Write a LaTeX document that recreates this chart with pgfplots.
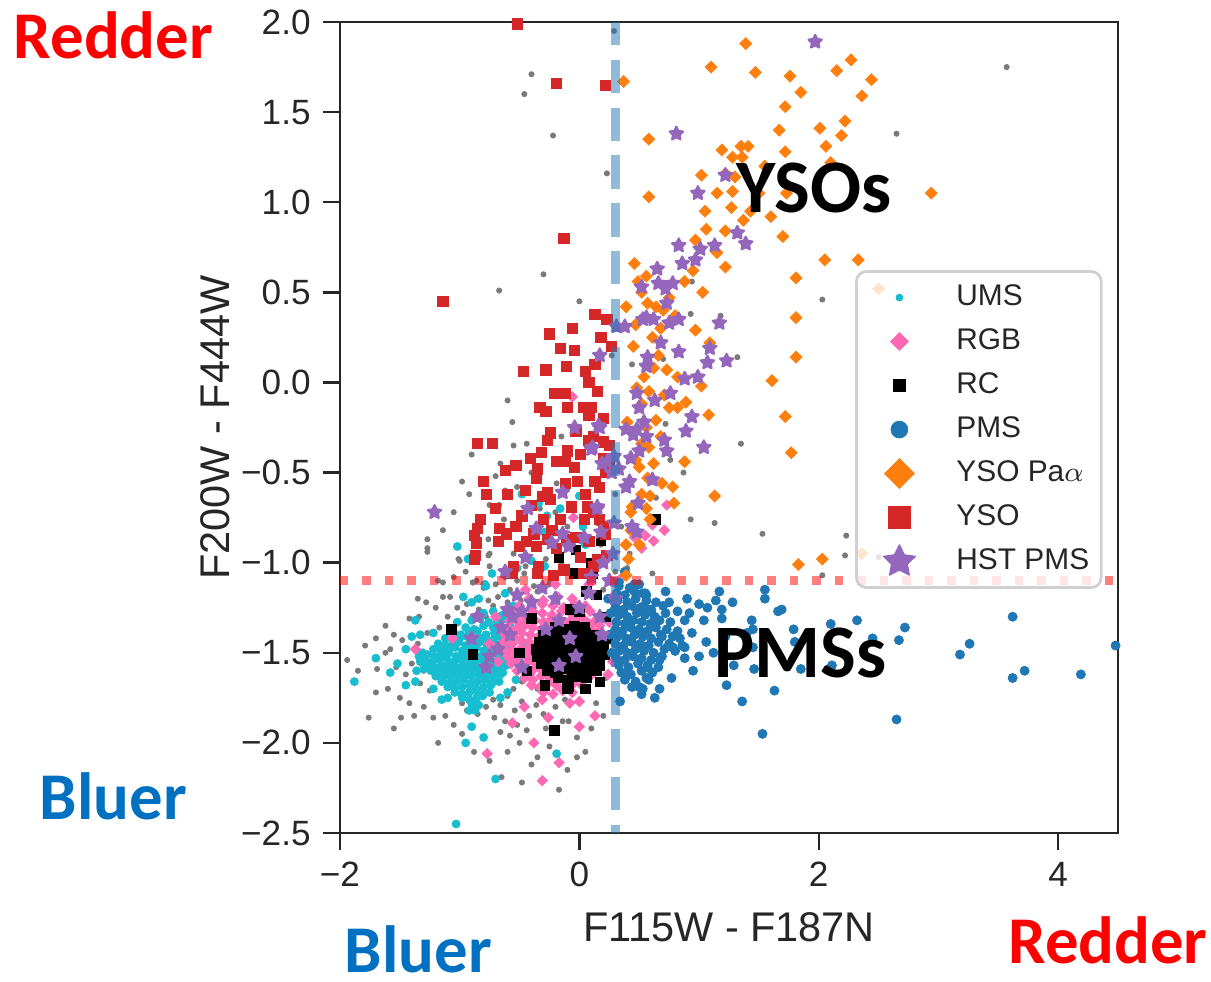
\documentclass[border=0pt]{standalone}
\usepackage{pgfplots}
\pgfplotsset{compat=1.18}
\usepackage{fontspec}
\setmainfont{Liberation Sans}
\newfontfamily\carlito{Carlito}

\definecolor{axgray}{HTML}{262626}
\definecolor{lgray}{HTML}{D0D0D0}
\definecolor{cgray}{HTML}{7A7A7A}
\definecolor{ccyan}{HTML}{17BECF}
\definecolor{cpink}{HTML}{FF69B4}
\definecolor{cblue}{HTML}{1F77B4}
\definecolor{corange}{HTML}{FF7F0E}
\definecolor{cred}{HTML}{D62728}
\definecolor{cpurple}{HTML}{9467BD}
\definecolor{txtred}{HTML}{FF0000}
\definecolor{txtblue}{HTML}{0070C0}

% filled five-pointed star
\pgfdeclareplotmark{fstar}{%
  \pgfpathmoveto{\pgfpointpolar{90}{\pgfplotmarksize}}%
  \pgfpathlineto{\pgfpointpolar{126}{0.5\pgfplotmarksize}}%
  \pgfpathlineto{\pgfpointpolar{162}{\pgfplotmarksize}}%
  \pgfpathlineto{\pgfpointpolar{198}{0.5\pgfplotmarksize}}%
  \pgfpathlineto{\pgfpointpolar{234}{\pgfplotmarksize}}%
  \pgfpathlineto{\pgfpointpolar{270}{0.5\pgfplotmarksize}}%
  \pgfpathlineto{\pgfpointpolar{306}{\pgfplotmarksize}}%
  \pgfpathlineto{\pgfpointpolar{342}{0.5\pgfplotmarksize}}%
  \pgfpathlineto{\pgfpointpolar{18}{\pgfplotmarksize}}%
  \pgfpathlineto{\pgfpointpolar{54}{0.5\pgfplotmarksize}}%
  \pgfpathclose
  \pgfusepathqfillstroke
}

\begin{document}
\begin{tikzpicture}
\useasboundingbox (-34mm,-14.9mm) rectangle (87.1mm,83.3mm);
\begin{axis}[
    width=77.8mm, height=81.1mm, scale only axis,
    xmin=-2, xmax=4.5, ymin=-2.5, ymax=2.0,
    xtick={-2,0,2,4}, xticklabels={−2,0,2,4},
    ytick={-2.5,-2.0,-1.5,-1.0,-0.5,0.0,0.5,1.0,1.5,2.0},
    yticklabels={−2.5,−2.0,−1.5,−1.0,−0.5,0.0,0.5,1.0,1.5,2.0},
    xtick pos=bottom, ytick pos=left, tick align=outside,
    major tick length=1.7mm,
    tick style={axgray, line width=0.7pt},
    axis line style={axgray, line width=0.8pt},
    tick label style={font=\fontsize{10}{12}\selectfont, text=axgray},
    xlabel={F115W - F187N}, ylabel={F200W - F444W},
    label style={font=\fontsize{11.8}{14}\selectfont, text=axgray},
    xlabel style={at={(axis description cs:0.5,-0.116)}, anchor=center},
    ylabel style={at={(axis description cs:-0.161,0.5)}, anchor=center},
    clip mode=individual,
    legend cell align=left,
    legend image code/.code={\path[draw=none] (0mm,0mm) (6.6mm,0mm);
        \draw[mark repeat=2,mark phase=2,#1] plot coordinates {(0mm,0mm) (3.1mm,0mm) (6.2mm,0mm)};},
    legend style={at={(0.662,0.694)}, anchor=north west, draw=lgray, line width=0.8pt,
        rounded corners=1mm, fill=white, fill opacity=0.8, text opacity=1, draw opacity=1,
        inner xsep=1.2mm, inner ysep=0.4mm, row sep=0pt, column sep=2.2mm,
        font=\fontsize{8.5}{10}\selectfont, text=axgray,
        nodes={inner sep=0pt, minimum height=4.4mm}},
]

% legend entries
\addlegendimage{only marks, mark=*, mark size=1.0pt, ccyan, mark options={line width=0.2pt, fill opacity=1}}
\addlegendentry{UMS}
\addlegendimage{only marks, mark=square*, mark size=1.8pt, cpink, mark options={rotate=45, line width=0.2pt, fill opacity=1}}
\addlegendentry{RGB}
\addlegendimage{only marks, mark=square*, mark size=1.75pt, black, mark options={line width=0.2pt, fill opacity=1}}
\addlegendentry{RC}
\addlegendimage{only marks, mark=*, mark size=2.4pt, cblue, mark options={line width=0.2pt, fill opacity=1}}
\addlegendentry{PMS}
\addlegendimage{only marks, mark=square*, mark size=3.0pt, corange, mark options={rotate=45, line width=0.2pt, fill opacity=1}}
\addlegendentry{YSO Pa$\alpha$}
\addlegendimage{only marks, mark=square*, mark size=3.1pt, cred, mark options={line width=0.2pt, fill opacity=1}}
\addlegendentry{YSO}
\addlegendimage{only marks, mark=fstar, mark size=4.8pt, cpurple, mark options={line width=0.3pt, line join=round, fill opacity=1}}
\addlegendentry{HST PMS}

% all sources (grey)
\addplot[only marks, mark=*, mark size=0.75pt, cgray, mark options={line width=0.2pt}, forget plot] coordinates {
(-1.10,-1.30)(-1.03,-1.33)(-0.97,-1.28)(-0.90,-1.31)(-0.84,-1.26)(-0.78,-1.30)(-0.72,-1.24)(-0.66,-1.29)(-0.60,-1.22)(-0.55,-1.27)
(-0.49,-1.21)(-0.44,-1.16)(-0.38,-1.13)(-0.68,-1.19)(-0.76,-1.21)(-0.86,-1.20)(-0.94,-1.23)(-1.02,-1.25)(-0.58,-1.15)(-0.52,-1.10)
(-0.46,-1.06)(-0.62,-1.08)(-0.70,-1.12)(-0.80,-1.14)(-0.89,-1.11)(-1.14,-1.19)(-1.08,-1.37)(-1.17,-1.36)
(-1.05,-1.72)(-0.98,-1.78)(-0.78,-1.80)(-0.72,-1.76)(-0.66,-1.79)(-0.60,-1.74)(-0.54,-1.82)(-0.48,-1.77)(-0.42,-1.85)(-0.36,-1.79)
(-0.30,-1.84)(-0.71,-1.86)(-0.62,-1.88)(-0.52,-1.90)(-0.44,-1.93)(-0.85,-1.84)(-0.94,-1.82)(-0.58,-1.96)(-0.66,-1.94)(-0.28,-1.92)
(-0.20,-1.80)(-0.12,-1.76)(-0.35,-1.70)(-0.48,-1.66)(-0.55,-1.70)(-0.40,-1.62)
(-1.94,-1.54)(-1.79,-1.46)(-1.69,-1.59)(-1.62,-1.50)(-1.58,-1.48)(-1.53,-1.58)(-1.49,-1.86)(-1.42,-1.31)(-1.34,-1.30)(-1.27,-1.39)
(-1.35,-1.45)(-1.40,-1.56)(-1.45,-1.62)(-1.33,-1.67)(-1.25,-1.71)(-1.18,-2.00)(-1.08,-1.19)(-1.76,-1.86)(-1.48,-1.43)(-1.30,-1.60)
(-1.00,-0.99)(-0.89,-1.11)(-0.75,-1.02)(-1.14,-1.11)(-1.27,-0.94)(-0.75,-0.95)(-1.14,-0.82)(-1.27,-0.87)(-1.27,-0.92)(-1.01,-0.98)
(-0.75,-0.68)(-0.67,-0.68)(-0.81,-0.75)(-0.63,-0.76)(-0.76,-0.87)(-0.76,-0.96)(-0.86,-1.10)(-0.44,-0.34)(-0.19,-0.56)(-0.56,-0.22)
(-0.67,0.51)(-0.40,1.71)(-0.46,1.60)(-0.22,1.37)(0.23,1.16)(0.29,1.95)
(-0.65,-2.19)(-0.17,-2.26)(-0.48,-2.22)(-0.35,-2.08)(-0.02,-2.08)(0.05,-2.05)(-0.14,-1.88)(-0.09,-1.88)(-0.02,-1.97)(0.14,-1.78)
(0.06,-1.70)(0.22,-1.64)
(0.61,-1.06)(0.44,0.10)(0.70,0.13)(0.27,0.15)(0.93,0.38)(1.18,0.37)(0.94,0.56)(0.76,-0.43)(0.87,-0.50)(0.72,-0.23)
(0.64,-0.64)(0.93,-0.76)(1.13,-0.78)(1.53,-0.84)(2.23,-0.85)(2.22,-0.96)(2.03,-1.07)(2.50,-0.97)(3.58,-0.94)(2.03,0.46)
(1.32,0.14)(1.35,-0.34)(2.65,1.38)(3.57,1.75)(0.22,-0.98)(0.30,-1.05)(0.40,-1.03)
(-0.33,-0.70)(-0.20,-0.72)(-0.10,-0.80)(0.05,-0.88)(0.15,-0.78)(-0.38,-0.92)(-0.28,-0.98)(-0.55,-0.95)(-0.45,-1.02)(-0.15,-1.00)
(-0.05,-1.05)(0.10,-1.10)(0.20,-1.15)(-0.25,-1.12)(-0.35,-1.16)(-0.62,-0.60)(-0.52,-0.58)(-0.66,-0.45)(-0.55,-0.35)(-0.90,-0.40)
(-0.98,-0.55)(0.12,-0.35)(0.08,-0.20)(0.30,-0.62)(0.35,-0.80)(0.42,-0.95)(0.18,-0.90)
(-1.60,-1.70)(-1.55,-1.40)(-1.50,-1.75)(-1.42,-1.78)(-1.38,-1.85)(-1.30,-1.80)(-1.22,-1.86)(-1.12,-1.85)(-1.05,-1.90)(-0.98,-1.95)
(-0.88,-2.05)(-0.75,-2.10)(-0.60,-2.05)(-0.50,-2.00)(-0.40,-2.12)(-0.25,-2.02)(-0.10,-2.15)(0.10,-1.92)(0.20,-1.85)(-1.20,-1.25)
(-1.28,-1.22)(-1.35,-1.20)(-1.18,-1.10)(-1.05,-1.08)(-0.95,-1.05)(-1.62,-1.35)(-1.70,-1.42)(-1.85,-1.60)(-1.70,-1.72)(-1.55,-1.92)
(-0.70,-0.52)(-0.92,-0.62)(-1.05,-0.72)(-0.40,-0.50)(-0.15,-0.30)(-0.60,-0.10)(0.00,0.45)(-0.30,0.60)
};

% UMS
\addplot[only marks, mark=*, mark size=1.15pt, ccyan, mark options={line width=0.2pt}, forget plot] coordinates {
(-0.80,-1.28)(-0.72,-1.27)(-0.64,-1.29)
(-0.90,-1.32)(-0.83,-1.31)(-0.76,-1.33)(-0.69,-1.32)(-0.62,-1.31)
(-0.95,-1.36)(-0.88,-1.37)(-0.80,-1.35)(-0.72,-1.36)(-0.64,-1.37)(-0.58,-1.35)
(-1.05,-1.39)(-0.99,-1.40)(-0.92,-1.39)(-0.85,-1.38)(-0.78,-1.40)(-0.71,-1.39)(-0.66,-1.40)(-0.60,-1.38)(-0.55,-1.40)
(-1.12,-1.42)(-1.06,-1.43)(-1.00,-1.42)(-0.94,-1.41)(-0.88,-1.43)(-0.82,-1.42)(-0.76,-1.43)(-0.70,-1.41)(-0.64,-1.42)(-0.58,-1.43)
(-1.18,-1.45)(-1.12,-1.46)(-1.06,-1.45)(-1.01,-1.44)(-0.95,-1.46)(-0.89,-1.45)(-0.83,-1.44)(-0.77,-1.46)(-0.71,-1.45)(-0.65,-1.44)(-0.59,-1.46)
(-1.22,-1.48)(-1.16,-1.49)(-1.10,-1.48)(-1.04,-1.47)(-0.98,-1.49)(-0.92,-1.48)(-0.86,-1.47)(-0.80,-1.49)(-0.74,-1.48)(-0.68,-1.47)(-0.62,-1.49)
(-1.27,-1.51)(-1.21,-1.52)(-1.15,-1.51)(-1.09,-1.50)(-1.03,-1.52)(-0.97,-1.51)(-0.91,-1.50)(-0.85,-1.52)(-0.79,-1.51)(-0.73,-1.50)(-0.67,-1.52)(-0.61,-1.51)
(-1.29,-1.54)(-1.23,-1.55)(-1.17,-1.54)(-1.11,-1.53)(-1.05,-1.55)(-0.99,-1.54)(-0.93,-1.53)(-0.87,-1.55)(-0.81,-1.54)(-0.75,-1.53)(-0.69,-1.55)(-0.63,-1.54)
(-1.27,-1.57)(-1.21,-1.58)(-1.15,-1.57)(-1.09,-1.56)(-1.03,-1.58)(-0.97,-1.57)(-0.91,-1.56)(-0.85,-1.58)(-0.79,-1.57)(-0.73,-1.56)(-0.67,-1.58)(-0.61,-1.57)
(-1.24,-1.60)(-1.18,-1.61)(-1.12,-1.60)(-1.06,-1.59)(-1.00,-1.61)(-0.94,-1.60)(-0.88,-1.59)(-0.82,-1.61)(-0.76,-1.60)(-0.70,-1.59)(-0.64,-1.61)
(-1.20,-1.63)(-1.14,-1.64)(-1.08,-1.63)(-1.02,-1.62)(-0.96,-1.64)(-0.90,-1.63)(-0.84,-1.62)(-0.78,-1.64)(-0.72,-1.63)(-0.66,-1.62)
(-1.15,-1.66)(-1.09,-1.67)(-1.03,-1.66)(-0.97,-1.65)(-0.91,-1.67)(-0.85,-1.66)(-0.79,-1.65)(-0.73,-1.67)(-0.67,-1.66)
(-1.10,-1.69)(-1.04,-1.70)(-0.98,-1.69)(-0.92,-1.68)(-0.86,-1.70)(-0.80,-1.69)(-0.74,-1.68)
(-1.04,-1.72)(-0.98,-1.73)(-0.92,-1.72)(-0.86,-1.71)(-0.80,-1.73)(-0.75,-1.72)
(-0.98,-1.75)(-0.92,-1.76)(-0.86,-1.75)(-0.81,-1.74)(-0.90,-1.78)(-0.84,-1.79)(-0.87,-1.82)
(-1.33,-1.55)(-1.31,-1.50)(-1.30,-1.59)
(-1.88,-1.66)(-1.70,-1.53)(-1.58,-1.61)(-1.37,-1.32)(-1.37,-1.66)(-1.15,-1.76)(-0.90,-1.91)(-0.95,-2.00)(-0.80,-1.97)(-0.70,-2.20)
(-0.19,-2.06)(-0.79,-1.12)(-0.52,-1.03)(-0.29,-1.02)(-0.23,-1.10)(-0.90,-1.22)(-0.84,-1.20)(-1.03,-2.45)(-0.48,-0.62)(0.00,-0.63)
(-0.34,-0.67)(-0.16,-0.70)(-0.27,-0.74)(-1.02,-0.91)(-0.93,-0.98)(-0.29,-0.83)(-0.20,-0.83)(0.03,-0.80)(-0.18,-0.94)(0.05,-0.90)
(-0.40,-0.99)(-0.73,-1.06)(-0.78,-1.13)(-1.45,-1.48)(-1.40,-1.41)(-1.34,-1.52)(-1.33,-1.40)(-1.36,-1.60)(-1.22,-1.39)(-1.22,-1.70)
(-0.55,-1.24)(-0.50,-1.36)(-0.46,-1.46)(-0.50,-1.55)(-0.53,-1.65)(-0.60,-1.72)(-0.66,-1.75)(-0.92,-1.82)(-0.86,-1.78)(-1.10,-1.75)
(-1.52,-1.56)(-1.45,-1.68)(0.10,-1.08)(0.20,-0.98)(-0.62,-1.17)(-0.97,-1.19)(-1.02,-1.33)
};

% RGB
\addplot[only marks, mark=square*, mark size=1.05pt, cpink, mark options={rotate=45, line width=0.2pt}, forget plot] coordinates {
(-0.42,-1.20)(-0.30,-1.21)(-0.18,-1.19)(-0.06,-1.20)
(-0.50,-1.24)(-0.40,-1.25)(-0.31,-1.23)(-0.22,-1.24)(-0.13,-1.25)(-0.04,-1.23)(0.05,-1.24)
(-0.55,-1.28)(-0.47,-1.29)(-0.39,-1.27)(-0.31,-1.28)(-0.23,-1.29)(-0.15,-1.27)(-0.07,-1.28)(0.01,-1.29)(0.09,-1.27)
(-0.58,-1.32)(-0.51,-1.33)(-0.44,-1.31)(-0.37,-1.32)(-0.30,-1.33)(-0.23,-1.31)(-0.16,-1.32)(-0.09,-1.33)(-0.02,-1.31)(0.05,-1.32)(0.12,-1.33)
(-0.60,-1.36)(-0.53,-1.37)(-0.46,-1.35)(-0.39,-1.36)(-0.32,-1.37)(-0.25,-1.35)(-0.18,-1.36)(-0.11,-1.37)(-0.04,-1.35)(0.03,-1.36)(0.10,-1.37)(0.17,-1.35)
(-0.62,-1.40)(-0.55,-1.41)(-0.48,-1.39)(-0.41,-1.40)(-0.34,-1.41)(-0.27,-1.39)(-0.20,-1.40)(-0.13,-1.41)(-0.06,-1.39)(0.01,-1.40)(0.08,-1.41)(0.15,-1.39)
(-0.63,-1.44)(-0.56,-1.45)(-0.49,-1.43)(-0.42,-1.44)(-0.35,-1.45)(-0.28,-1.43)(-0.21,-1.44)(-0.14,-1.45)(-0.07,-1.43)(0.00,-1.44)(0.07,-1.45)(0.14,-1.43)(0.20,-1.44)
(-0.62,-1.48)(-0.55,-1.49)(-0.48,-1.47)(-0.41,-1.48)(-0.34,-1.49)(-0.27,-1.47)(-0.20,-1.48)(-0.13,-1.49)(-0.06,-1.47)(0.01,-1.48)(0.08,-1.49)(0.15,-1.47)
(-0.60,-1.52)(-0.53,-1.53)(-0.46,-1.51)(-0.39,-1.52)(-0.32,-1.53)(-0.25,-1.51)(-0.18,-1.52)(-0.11,-1.53)(-0.04,-1.51)(0.03,-1.52)(0.10,-1.53)(0.17,-1.51)
(-0.57,-1.56)(-0.50,-1.57)(-0.43,-1.55)(-0.36,-1.56)(-0.29,-1.57)(-0.22,-1.55)(-0.15,-1.56)(-0.08,-1.57)(-0.01,-1.55)(0.06,-1.56)(0.13,-1.57)
(-0.52,-1.60)(-0.45,-1.61)(-0.38,-1.59)(-0.31,-1.60)(-0.24,-1.61)(-0.17,-1.59)(-0.10,-1.60)(-0.03,-1.61)(0.04,-1.59)(0.11,-1.60)
(-0.46,-1.64)(-0.39,-1.65)(-0.32,-1.63)(-0.25,-1.64)(-0.18,-1.65)(-0.11,-1.63)(-0.04,-1.64)(0.03,-1.65)(0.09,-1.63)
(-0.40,-1.68)(-0.33,-1.69)(-0.26,-1.67)(-0.19,-1.68)(-0.12,-1.69)(-0.05,-1.67)(0.02,-1.68)
(-0.30,-1.72)(-0.22,-1.73)(-0.14,-1.71)(-0.06,-1.72)
(-0.77,-2.06)(-0.56,-1.89)(-0.46,-1.80)(-0.38,-2.00)(-0.31,-2.21)(-0.17,-2.11)(0.00,-1.91)(0.13,-1.85)(-0.26,-1.86)(-0.08,-1.78)
(0.00,-1.77)(-0.31,-1.76)(-1.37,-1.48)(-1.06,-1.42)(-0.70,-1.30)(-0.75,-1.45)(-0.68,-1.55)(-0.06,-0.08)(0.52,-0.92)(0.62,-0.88)
(0.36,-1.08)(0.26,-1.20)(0.24,-1.62)(0.28,-1.55)(0.25,-1.33)(-0.35,-1.05)(-0.20,-1.12)(0.08,-1.12)(-0.45,-1.15)(0.55,-0.85)
(0.46,-0.86)(-0.05,-0.75)(0.61,-0.79)(0.71,-0.82)(0.73,-0.68)
};

% RC
\addplot[only marks, mark=square*, mark size=1.35pt, black, mark options={line width=0.2pt}, forget plot] coordinates {
(-0.20,-1.36)(-0.12,-1.37)(-0.04,-1.35)(0.04,-1.36)
(-0.30,-1.40)(-0.23,-1.41)(-0.16,-1.39)(-0.09,-1.40)(-0.02,-1.41)(0.05,-1.39)(0.12,-1.40)
(-0.34,-1.44)(-0.27,-1.45)(-0.20,-1.43)(-0.13,-1.44)(-0.06,-1.45)(0.01,-1.43)(0.08,-1.44)(0.15,-1.45)
(-0.36,-1.48)(-0.29,-1.49)(-0.22,-1.47)(-0.15,-1.48)(-0.08,-1.49)(-0.01,-1.47)(0.06,-1.48)(0.13,-1.49)(0.20,-1.47)
(-0.35,-1.52)(-0.28,-1.53)(-0.21,-1.51)(-0.14,-1.52)(-0.07,-1.53)(0.00,-1.51)(0.07,-1.52)(0.14,-1.53)(0.21,-1.51)
(-0.32,-1.56)(-0.25,-1.57)(-0.18,-1.55)(-0.11,-1.56)(-0.04,-1.57)(0.03,-1.55)(0.10,-1.56)(0.17,-1.57)
(-0.27,-1.60)(-0.20,-1.61)(-0.13,-1.59)(-0.06,-1.60)(0.01,-1.61)(0.08,-1.59)(0.14,-1.60)
(-0.18,-1.64)(-0.10,-1.65)(-0.02,-1.63)(0.06,-1.64)
(-0.89,-1.51)(-1.07,-1.37)(-0.50,-1.50)(-0.10,-1.70)(-0.21,-1.93)(0.06,-1.16)(0.14,-1.18)(0.00,-1.27)(-0.08,-1.26)(0.11,-1.06)
(-0.04,-1.06)(0.10,-1.00)(0.64,-0.76)(0.22,-1.30)(0.24,-1.42)(-0.40,-1.31)(-0.44,-1.60)(-0.29,-1.68)(0.05,-1.70)(0.17,-1.66)
(-0.17,-0.97)(-0.03,-0.93)(0.18,-0.88)(-0.09,-1.69)
};

% PMS
\addplot[only marks, mark=*, mark size=1.3pt, cblue, mark options={line width=0.2pt}, forget plot] coordinates {
(0.33,-1.13)(0.42,-1.14)(0.50,-1.12)
(0.31,-1.17)(0.38,-1.18)(0.46,-1.16)(0.55,-1.17)
(0.32,-1.21)(0.40,-1.22)(0.47,-1.20)(0.56,-1.21)(0.64,-1.22)
(0.30,-1.25)(0.37,-1.26)(0.44,-1.24)(0.51,-1.25)(0.60,-1.26)(0.70,-1.24)
(0.33,-1.29)(0.40,-1.30)(0.48,-1.28)(0.55,-1.29)(0.63,-1.30)(0.72,-1.28)
(0.31,-1.33)(0.38,-1.34)(0.45,-1.32)(0.52,-1.33)(0.59,-1.34)(0.67,-1.32)(0.76,-1.33)
(0.30,-1.37)(0.36,-1.38)(0.43,-1.36)(0.50,-1.37)(0.57,-1.38)(0.64,-1.36)(0.73,-1.37)(0.82,-1.38)
(0.32,-1.41)(0.39,-1.42)(0.46,-1.40)(0.53,-1.41)(0.60,-1.42)(0.68,-1.40)(0.78,-1.41)
(0.30,-1.45)(0.37,-1.46)(0.44,-1.44)(0.51,-1.45)(0.58,-1.46)(0.66,-1.44)(0.75,-1.45)(0.86,-1.46)
(0.33,-1.49)(0.40,-1.50)(0.47,-1.48)(0.54,-1.49)(0.62,-1.50)(0.71,-1.48)(0.80,-1.49)
(0.31,-1.53)(0.38,-1.54)(0.45,-1.52)(0.52,-1.53)(0.60,-1.54)(0.69,-1.52)
(0.33,-1.57)(0.41,-1.58)(0.49,-1.56)(0.57,-1.57)(0.66,-1.58)
(0.35,-1.61)(0.43,-1.62)(0.52,-1.60)(0.61,-1.61)
(0.38,-1.65)(0.47,-1.66)(0.56,-1.64)(0.44,-1.69)(0.53,-1.70)
(0.26,-1.28)(0.25,-1.40)(0.27,-1.50)(0.24,-1.20)
(0.33,-1.11)(0.46,-1.12)(0.53,-1.17)(0.72,-1.16)(0.75,-1.22)(0.54,-1.24)(0.60,-1.27)(0.63,-1.31)(1.00,-1.23)(1.07,-1.25)
(1.14,-1.21)(1.17,-1.16)(1.19,-1.26)(1.19,-1.31)(1.55,-1.15)(1.55,-1.20)(1.66,-1.27)(1.69,-1.26)(1.44,-1.32)(1.45,-1.37)
(1.40,-1.39)(1.79,-1.37)(1.80,-1.44)(2.10,-1.34)(2.11,-1.57)(2.32,-1.32)(2.72,-1.36)(2.67,-1.43)(2.45,-1.42)(3.62,-1.30)
(3.26,-1.45)(3.18,-1.51)(3.62,-1.64)(3.72,-1.60)(4.19,-1.62)(4.48,-1.46)(2.65,-1.87)(1.53,-1.95)(1.36,-1.77)(1.63,-1.71)
(1.23,-1.68)(1.46,-1.59)(1.29,-1.57)(1.85,-1.59)(1.00,-1.52)(1.12,-1.50)(1.06,-1.44)(0.88,-1.53)(0.88,-1.47)(0.78,-1.47)
(0.77,-1.64)(0.67,-1.70)(0.52,-1.73)(0.50,-1.69)(0.34,-1.77)(0.57,-1.58)(0.41,-1.62)(1.45,-1.47)(1.22,-1.41)(0.94,-1.39)
(0.88,-1.32)(1.04,-1.32)(0.69,-1.41)(0.67,-1.54)(0.90,-1.20)(0.82,-1.27)(0.95,-1.60)(1.28,-1.22)(0.38,-1.05)(0.56,-1.18)
(0.84,-1.42)(0.92,-1.28)(0.58,-1.65)(0.63,-1.75)
};

% YSO Pa alpha
\addplot[only marks, mark=square*, mark size=1.2pt, corange, mark options={rotate=45, line width=0.2pt}, forget plot] coordinates {
(1.39,1.88)(1.10,1.75)(0.37,1.67)(1.47,1.72)(1.76,1.70)(2.15,1.73)(2.27,1.79)(2.44,1.68)(2.36,1.59)(1.85,1.61)
(1.72,1.53)(2.22,1.45)(2.19,1.37)(2.01,1.41)(1.67,1.40)(2.06,1.31)(1.72,1.28)(1.41,1.31)(1.35,1.31)(1.19,1.29)
(1.28,1.25)(1.36,1.25)(2.10,1.22)(0.58,1.35)(1.02,1.15)(1.22,1.16)(1.30,1.14)(0.58,1.03)(1.28,1.06)(1.73,1.05)
(2.94,1.05)(1.27,0.97)(1.43,0.95)(1.37,0.90)(1.06,0.85)(0.97,0.79)(1.22,0.84)(1.70,0.81)(0.46,0.66)(1.22,0.64)
(2.05,0.68)(2.33,0.68)(1.81,0.58)(0.56,0.59)(0.49,0.56)(0.88,0.56)(1.03,0.50)(0.39,0.42)(0.57,0.44)(0.64,0.42)
(1.81,0.36)(0.68,0.30)(0.80,0.37)(0.97,0.29)(0.61,0.25)(1.09,0.22)(1.81,0.14)(0.73,0.07)(0.54,0.03)(0.82,0.03)
(1.61,0.01)(0.48,-0.03)(1.02,-0.02)(0.71,-0.07)(0.58,-0.05)(0.75,-0.14)(0.82,-0.14)(0.89,-0.11)(1.08,-0.18)(1.72,-0.19)
(0.64,-0.21)(0.56,-0.25)(1.77,-0.39)(0.52,-0.34)(0.58,-0.36)(0.88,-0.44)(0.50,-0.47)(0.47,-0.43)(0.69,-0.56)(0.78,-0.58)
(0.57,-0.53)(1.13,-0.63)(0.52,-0.62)(0.59,-0.63)(0.79,-0.67)(0.43,-0.72)(0.56,-0.70)(0.59,-0.76)(0.39,-0.90)(0.44,-0.69)
(0.43,-0.82)(0.39,-1.07)(0.41,-0.98)(0.50,-0.90)(1.83,-1.01)(2.03,-0.98)(0.66,0.15)(0.62,0.08)(0.45,0.20)(0.52,-0.12)
(0.40,-0.22)(0.68,-0.30)(0.62,-0.45)(0.47,0.32)(0.75,0.47)(0.70,0.40)(0.52,0.50)(0.95,0.62)(1.15,0.72)(1.05,0.95)
(1.15,1.05)(1.55,1.20)(1.50,1.05)(1.60,0.92)(2.50,0.52)(2.36,-0.95)
};

% YSO
\addplot[only marks, mark=square*, mark size=1.45pt, cred, mark options={line width=0.2pt}, forget plot] coordinates {
(-1.14,0.45)(-0.52,1.99)(-0.19,1.66)(0.22,1.65)(-0.13,0.80)(0.13,0.38)(0.23,0.35)(-0.06,0.30)(-0.16,0.19)(-0.47,0.06)
(-0.28,0.07)(-0.11,0.09)(0.05,0.06)(0.13,0.10)(0.08,0.00)(-0.21,-0.06)(-0.12,-0.06)(-0.33,-0.14)(-0.28,-0.16)(-0.10,-0.14)
(0.03,-0.14)(0.10,-0.14)(0.08,-0.18)(-0.24,-0.28)(-0.27,-0.32)(-0.85,-0.34)(-0.73,-0.34)(0.08,-0.32)(0.20,-0.33)(0.25,-0.35)
(-0.32,-0.39)(-0.10,-0.38)(0.01,-0.40)(-0.41,-0.42)(-0.19,-0.44)(-0.12,-0.44)(-0.04,-0.47)(-0.53,-0.46)(-0.62,-0.49)(-0.35,-0.48)
(-0.36,-0.53)(0.13,-0.55)(-0.12,-0.56)(0.17,-0.58)(-0.27,-0.61)(-0.24,-0.65)(-0.31,-0.63)(-0.07,-0.69)(-0.83,-0.76)(-0.85,-0.81)
(-0.88,-0.85)(-0.86,-0.89)(-0.87,-0.96)(-0.67,-0.81)(-0.61,-0.84)(-0.53,-0.80)(-0.48,-0.74)(-0.68,-0.88)(-0.50,-0.91)(-0.44,-0.88)
(-0.38,-0.84)(-0.36,-0.91)(-0.27,-0.87)(-0.23,-0.82)(-0.19,-0.92)(-0.11,-0.87)(-0.03,-0.86)(0.04,-0.76)(0.07,-0.69)(0.12,-0.72)
(0.17,-0.76)(0.20,-0.80)(0.22,-0.84)(0.01,-0.97)(0.08,-0.88)(-0.55,-1.02)(-0.34,-1.02)(0.15,-0.98)(0.23,-0.96)(-0.88,-0.98)
(-0.56,-1.06)(-0.35,-1.06)(-0.22,-1.07)(0.03,-1.06)(0.12,-1.02)(-0.13,-1.04)(-0.80,-0.55)(-0.78,-0.62)(-0.70,-0.70)(-0.60,-0.62)
(-0.45,-0.60)(-0.40,-0.68)(0.20,-0.42)(0.22,-0.50)(0.25,-0.45)(-0.02,-0.55)(0.05,-0.62)(-0.16,-0.76)(-0.30,-0.76)(-0.25,0.27)
(0.18,0.25)(-0.04,0.18)(0.27,0.20)(0.15,-0.05)(0.20,-0.20)(-0.03,-0.27)(0.12,-0.30)
};

% HST PMS
\addplot[only marks, mark=fstar, mark size=2.0pt, cpurple, mark options={line width=0.6pt, line join=round}, forget plot] coordinates {
(1.97,1.89)(0.81,1.38)(1.22,1.15)(0.99,1.05)(1.32,0.83)(1.39,0.77)(0.83,0.76)(1.13,0.76)(1.01,0.74)(0.97,0.68)
(0.86,0.66)(0.65,0.63)(0.52,0.53)(0.66,0.55)(0.72,0.52)(0.78,0.55)(0.73,0.44)(0.56,0.36)(0.62,0.35)(0.53,0.35)
(0.83,0.35)(0.75,0.33)(1.17,0.33)(0.38,0.31)(0.31,0.31)(0.68,0.22)(0.83,0.17)(1.09,0.19)(1.23,0.12)(1.07,0.11)
(0.57,0.14)(0.56,0.09)(0.17,0.15)(0.88,0.02)(0.99,0.03)(0.48,-0.06)(0.63,-0.10)(0.76,-0.06)(0.50,-0.14)(0.94,-0.19)
(0.39,-0.26)(0.48,-0.26)(0.54,-0.22)(0.45,-0.29)(0.56,-0.30)(0.89,-0.27)(1.04,-0.36)(0.71,-0.32)(0.73,-0.38)(0.43,-0.42)
(0.50,-0.38)(0.29,-0.41)(0.33,-0.48)(0.27,-0.50)(0.42,-0.55)(0.61,-0.54)(0.17,-0.25)(0.10,-0.37)(0.19,-0.45)(0.39,-0.58)
(0.49,-0.67)(0.29,-0.78)(0.44,-0.80)(0.48,-0.83)(0.15,-0.69)(0.18,-0.83)(-1.21,-0.72)(-0.43,-0.70)(-0.14,-0.61)(-0.36,-0.81)
(-0.14,-0.84)(0.15,-0.70)(0.11,-0.36)(0.23,-0.44)(0.04,-0.86)(-0.23,-0.89)(-0.09,-0.91)(-0.56,-1.30)(-0.48,-1.27)(-0.60,-1.26)
(-0.75,-1.52)(-0.68,-1.48)(-0.78,-1.58)(-0.28,-1.37)(-0.17,-1.32)(-0.08,-1.42)(-0.03,-1.52)(-0.17,-1.57)(0.08,-1.17)(0.17,-1.30)
(0.19,-1.40)(-0.48,-1.58)(-0.31,-1.14)(-0.58,-1.40)(-0.65,-1.36)(-0.40,-1.22)(-0.90,-1.42)(-0.85,-1.30)(0.00,-1.25)(0.10,-1.08)
(-0.20,-1.20)(-0.52,-1.18)(0.25,-1.10)(0.28,-0.95)(0.20,-1.00)(0.30,-1.20)(-0.62,-1.05)(-0.45,-0.97)(-0.04,-0.25)(0.16,-0.24)
};

% reference lines
\addplot[forget plot, cblue, opacity=0.5, line width=0.9mm, dash pattern=on 3.33mm off 1.45mm, dash phase=1mm] coordinates {(0.3,2.0) (0.3,-2.5)};
\addplot[forget plot, red, opacity=0.5, line width=0.85mm, dash pattern=on 0.85mm off 1.4mm] coordinates {(-2,-1.1) (4.5,-1.1)};

\node[font={\carlito\bfseries\fontsize{21.5}{24}\selectfont}] at (axis cs:1.96,1.08) {YSOs};
\node[font={\carlito\bfseries\fontsize{21.5}{24}\selectfont}] at (axis cs:1.85,-1.50) {PMSs};
\end{axis}

\node[text=txtred, font={\carlito\bfseries\fontsize{19}{22}\selectfont}] at (-22.65mm,79.75mm) {Redder};
\node[text=txtblue, font={\carlito\bfseries\fontsize{19}{22}\selectfont}] at (-22.65mm,3.7mm) {Bluer};
\node[text=txtblue, font={\carlito\bfseries\fontsize{19}{22}\selectfont}, inner sep=0pt] at (7.85mm,-11.6mm) {Bluer};
\node[text=txtred, font={\carlito\bfseries\fontsize{19}{22}\selectfont}] at (76.8mm,-10.7mm) {Redder};
\end{tikzpicture}
\end{document}
